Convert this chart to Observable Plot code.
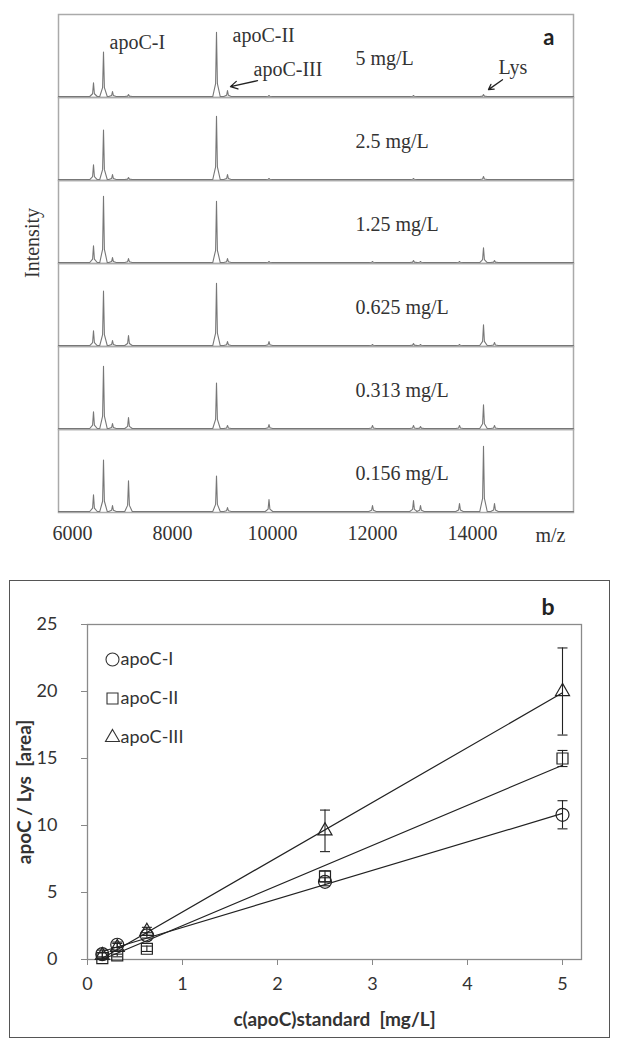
<!DOCTYPE html>
<html><head><meta charset="utf-8">
<script src="https://cdn.jsdelivr.net/npm/d3@7"></script>
<script src="https://cdn.jsdelivr.net/npm/@observablehq/plot@0.6"></script>
<style>
body{margin:0;background:#fff;}
#wrap{position:relative;width:621px;height:1050px;overflow:hidden;background:#fff;}
#pa{position:absolute;left:0;top:0;}
#pb{position:absolute;left:0;top:570px;}
#boxb{position:absolute;left:9px;top:580px;width:599px;height:456px;border:1.6px solid #555;pointer-events:none;}
#intensity{position:absolute;left:32px;top:243px;transform:translate(-50%,-50%) rotate(-90deg);font-family:"Liberation Serif",serif;font-size:20px;color:#333;white-space:nowrap;}
#pb g[aria-label="y-axis label"] text,#pb g[aria-label="x-axis label"] text,#pb g[aria-label="y-axis label"],#pb g[aria-label="x-axis label"]{font-weight:bold;font-size:19px;}
#pb g[aria-label="y-axis tick"],#pb g[aria-label="x-axis tick"]{stroke:#888;}
</style></head>
<body><div id="wrap"><div id="pa"></div><div id="intensity">Intensity</div><div id="pb"></div><div id="boxb"></div></div>
<script>
// ---------- Panel a: MALDI spectra ----------
const concentrations = ["5 mg/L", "2.5 mg/L", "1.25 mg/L", "0.625 mg/L", "0.313 mg/L", "0.156 mg/L"];
const peakMz = [6420, 6620, 6800, 7120, 8880, 9100, 9930, 12000, 12820, 12960, 13740, 14220, 14440];
const h5     = [14, 45, 5, 2, 65, 6, 1, 0, 1, 0, 0, 2, 0];
const h2p5   = [15, 50, 5, 2, 64, 5, 1, 0, 1, 0, 0, 3, 0];
const h1p25  = [17, 67, 5, 4, 62, 4, 1, 1, 2, 1, 1, 15, 2];
const h0p625 = [15, 55, 5, 10, 63, 4, 4, 1, 2, 1, 1, 21, 3];
const h0p313 = [17, 63, 5, 11, 46, 3, 4, 3, 3, 2, 3, 24, 3];
const h0p156 = [17, 52, 6, 31, 36, 4, 12, 6, 11, 6, 8, 66, 8];
const traceHeights = [h5, h2p5, h1p25, h0p625, h0p313, h0p156];
const mzRange = [5720, 16020];
const xTicks = [6000, 8000, 10000, 12000, 14000];

const base = 1;
const spectra = concentrations.flatMap((conc, i) => {
  const pts = [{conc, mz: mzRange[0], I: base}];
  peakMz.forEach((mz, j) => {
    const h = traceHeights[i][j];
    if (h <= 0) return;
    pts.push({conc, mz: mz - 75, I: base}, {conc, mz: mz - 18, I: base + 0.2 * h},
             {conc, mz, I: base + h}, {conc, mz: mz + 18, I: base + 0.2 * h}, {conc, mz: mz + 75, I: base});
  });
  pts.push({conc, mz: mzRange[1], I: base});
  return pts;
});

const topConc = concentrations[0];
const labelApoCI = [{conc: topConc, mz: peakMz[1], label: "apoC-I"}];
const labelApoCII = [{conc: topConc, mz: peakMz[4], label: "apoC-II"}];
const labelApoCIII = [{conc: topConc, mz: peakMz[5], label: "apoC-III"}];
const labelLys = [{conc: topConc, mz: peakMz[11], label: "Lys"}];
const arrows = [
  {conc: topConc, x1: peakMz[5] + 600, y1: h5[5] + 11, x2: peakMz[5] + 60, y2: h5[5] + 5},
  {conc: topConc, x1: peakMz[11] + 380, y1: h5[11] + 16, x2: peakMz[11] + 100, y2: h5[11] + 6}
];
const txt = {fy: "conc", x: "mz", text: "label", frameAnchor: "top", textAnchor: "start", lineAnchor: "middle", fill: "#333"};

const plotA = Plot.plot({
  width: 621, height: 550,
  marginLeft: 58, marginRight: 48, marginTop: 12, marginBottom: 36,
  style: {fontFamily: "Liberation Serif, serif", fontSize: "20px", color: "#333", background: "transparent", overflow: "visible"},
  x: {domain: mzRange, ticks: xTicks, tickSize: 0, tickPadding: 13, tickFormat: d => String(d), label: null},
  y: {domain: [0, 84], axis: null},
  fy: {domain: concentrations, padding: 0, axis: null},
  marks: [
    Plot.frame({stroke: "#aaa", strokeWidth: 1.5}),
    Plot.line(spectra, {x: "mz", y: "I", fy: "conc", z: "conc", stroke: "#777", strokeWidth: 1.1}),
    Plot.text(concentrations, {fy: d => d, text: d => d, frameAnchor: "left", dx: 297, dy: 3, textAnchor: "start", lineAnchor: "middle", fill: "#333"}),
    Plot.text(labelApoCI, {...txt, dx: 6, dy: 28}),
    Plot.text(labelApoCII, {...txt, dx: 16, dy: 21}),
    Plot.text(labelApoCIII, {...txt, dx: 26, dy: 55}),
    Plot.text(labelLys, {...txt, dx: 15, dy: 53}),
    Plot.arrow(arrows, {fy: "conc", x1: "x1", y1: "y1", x2: "x2", y2: "y2", stroke: "#222", strokeWidth: 1.3, headLength: 9}),
    Plot.text([topConc], {fy: d => d, text: () => "a", frameAnchor: "top-right", dx: -19, dy: 23, textAnchor: "end", lineAnchor: "middle",
      fontFamily: "Lato, sans-serif", fontWeight: "bold", fontSize: 22, fill: "#222"}),
    Plot.text([concentrations[5]], {fy: d => d, text: () => "m/z", frameAnchor: "bottom-right", dx: -8, dy: 23, textAnchor: "end", lineAnchor: "middle", fill: "#333"})
  ]
});
document.getElementById("pa").appendChild(plotA);

// ---------- Panel b: calibration ----------
const seriesNames = ["apoC-I", "apoC-II", "apoC-III"];
const seriesSymbols = ["circle", "square", "triangle"];
const concX = [0.156, 0.313, 0.625, 2.5, 5];
const apoCI = [0.4, 1.1, 1.8, 5.8, 10.8];
const apoCIErr = [0.3, 0.2, 0.2, 0.3, 1.05];
const apoCII = [0.1, 0.3, 0.8, 6.2, 15.0];
const apoCIIErr = [0.1, 0.1, 0.2, 0.4, 0.6];
const apoCIII = [0.3, 0.9, 2.1, 9.6, 20.0];
const apoCIIIErr = [0.2, 0.3, 0.3, 1.55, 3.25];
const fitX = [0.156, 5];
const fitI = [0.6, 10.9];
const fitII = [0.0, 14.5];
const fitIII = [0.1, 19.9];

const seriesY = [apoCI, apoCII, apoCIII];
const seriesErr = [apoCIErr, apoCIIErr, apoCIIIErr];
const fits = [fitI, fitII, fitIII];

const points = seriesNames.flatMap((s, i) => concX.map((x, j) => ({
  series: s, symbol: seriesSymbols[i], x, y: seriesY[i][j],
  lo: seriesY[i][j] - seriesErr[i][j], hi: seriesY[i][j] + seriesErr[i][j]
})));
const fitLines = seriesNames.flatMap((s, i) => fitX.map((x, j) => ({series: s, x, y: fits[i][j]})));

const cap = {draw(ctx, size) { const r = Math.sqrt(size / Math.PI); ctx.moveTo(-r, 0); ctx.lineTo(r, 0); }};
const symR = {circle: 6.5, square: 6.2, triangle: 5.2};

const pointMarks = seriesNames.map((s, i) =>
  Plot.dot(points.filter(p => p.series === s), {x: "x", y: "y", symbol: () => seriesSymbols[i],
    r: symR[seriesSymbols[i]], stroke: "#222", fill: "none", strokeWidth: 1.2}));

const legendMarks = seriesNames.flatMap((s, i) => [
  Plot.dot([s], {frameAnchor: "top-left", dx: 25, dy: 35 + 39 * i, symbol: () => seriesSymbols[i],
    r: symR[seriesSymbols[i]], stroke: "#333", fill: "none", strokeWidth: 1.1}),
  Plot.text([s], {frameAnchor: "top-left", dx: 33, dy: 35 + 39 * i, text: d => d, textAnchor: "start", lineAnchor: "middle", fill: "#333", fontSize: 18})
]);

const plotB = Plot.plot({
  width: 621, height: 470,
  marginLeft: 87, marginRight: 40, marginTop: 54, marginBottom: 81,
  style: {fontFamily: "Lato, sans-serif", fontSize: "18px", color: "#333", background: "transparent", overflow: "visible"},
  x: {domain: [0, 5.2], ticks: [0, 1, 2, 3, 4, 5], tickSize: 6, tickPadding: 12, tickFormat: d => String(d),
      label: "c(apoC)standard\u00a0\u00a0[mg/L]", labelAnchor: "center", labelArrow: "none", labelOffset: 66},
  y: {domain: [0, 25], ticks: [0, 5, 10, 15, 20, 25], tickSize: 6, tickPadding: 24, tickFormat: d => String(d),
      label: "apoC / Lys\u00a0\u00a0[area]", labelAnchor: "center", labelArrow: "none", labelOffset: 70},
  marks: [
    Plot.frame({stroke: "#8a8a8a", strokeWidth: 1.3}),
    Plot.line(fitLines, {x: "x", y: "y", z: "series", stroke: "#222", strokeWidth: 1.2}),
    Plot.ruleX(points, {x: "x", y1: "lo", y2: "hi", stroke: "#222", strokeWidth: 1.1}),
    Plot.dot(points, {x: "x", y: "lo", symbol: () => cap, r: 5, stroke: "#222", strokeWidth: 1.1}),
    Plot.dot(points, {x: "x", y: "hi", symbol: () => cap, r: 5, stroke: "#222", strokeWidth: 1.1}),
    ...pointMarks,
    ...legendMarks,
    Plot.text(["b"], {frameAnchor: "top-right", dx: -27, dy: -17, text: d => d, lineAnchor: "middle", fontWeight: "bold", fontSize: 23, fill: "#222"})
  ]
});
document.getElementById("pb").appendChild(plotB);
</script>
</body></html>
